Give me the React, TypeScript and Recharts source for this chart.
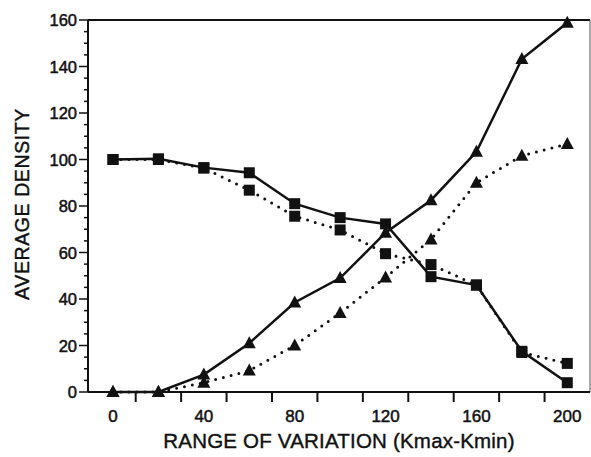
import { LineChart, Line, XAxis, YAxis, ReferenceLine } from "recharts";

const xValues = [0, 20, 40, 60, 80, 100, 120, 140, 160, 180, 200];
const solidSquares = [100, 100.3, 96.5, 94.3, 81, 75, 72.3, 49.6, 46, 17.5, 4];
const dottedSquares = [100, 100, 96.3, 86.8, 75.6, 69.7, 59.5, 54.8, 46, 17, 12.3];
const solidTriangles = [0, 0, 7.5, 21, 38.5, 49, 68.5, 82.5, 103.3, 143.2, 158.8];
const dottedTriangles = [0, 0, 4, 9.2, 20, 34, 49.3, 65.6, 90, 101.6, 106.7];

const xTicks = [0, 10, 20, 30, 40, 50, 60, 70, 80, 90, 100, 110, 120, 130, 140, 150, 160, 170, 180, 190, 200];
const yTicks = [
  0, 5, 10, 15, 20, 25, 30, 35, 40, 45, 50, 55, 60, 65, 70, 75, 80,
  85, 90, 95, 100, 105, 110, 115, 120, 125, 130, 135, 140, 145, 150, 155, 160,
];

const xTitle = "RANGE OF VARIATION (Kmax-Kmin)";
const yTitle = "AVERAGE DENSITY";

const data = xValues.map((x, i) => ({
  x,
  solidSquares: solidSquares[i],
  dottedSquares: dottedSquares[i],
  solidTriangles: solidTriangles[i],
  dottedTriangles: dottedTriangles[i],
}));

const font = "'Liberation Sans', Arial, sans-serif";
const ink = "#111";

const Square = (props: any) => {
  const { cx, cy, index } = props;
  if (cx == null || cy == null) return null;
  return <rect key={index} x={cx - 5.5} y={cy - 5.5} width={11} height={11} fill={ink} />;
};

const Triangle = (props: any) => {
  const { cx, cy, index } = props;
  if (cx == null || cy == null) return null;
  return (
    <polygon
      key={index}
      points={`${cx},${cy - 7} ${cx - 6.5},${cy + 5} ${cx + 6.5},${cy + 5}`}
      fill={ink}
    />
  );
};

const XTick = (props: any) => {
  const { x, y, payload } = props;
  const v = payload.value;
  return (
    <g>
      {v % 20 === 10 && <line x1={x} x2={x} y1={y} y2={y + 10} stroke={ink} strokeWidth={2} />}
      {v % 40 === 0 && (
        <text x={x} y={y + 30} textAnchor="middle" fontSize={17} fontFamily={font} fill={ink} stroke={ink} strokeWidth={0.5}>
          {v}
        </text>
      )}
    </g>
  );
};

const YTick = (props: any) => {
  const { x, y, payload } = props;
  const v = payload.value;
  const major = v % 20 === 0;
  return (
    <g>
      <line x1={x - (major ? 9 : 4)} x2={x} y1={y} y2={y} stroke={ink} strokeWidth={1.5} />
      {major && (
        <text x={x - 11} y={y + 6} textAnchor="end" fontSize={16.5} fontFamily={font} fill={ink} stroke={ink} strokeWidth={0.5}>
          {v}
        </text>
      )}
    </g>
  );
};

const XTitle = (props: any) => {
  const { viewBox } = props;
  return (
    <text
      x={viewBox.x + viewBox.width / 2}
      y={448}
      textAnchor="middle"
      fontSize={20.5}
      letterSpacing={0.2}
      fontFamily={font}
      fill={ink}
      stroke={ink}
      strokeWidth={0.4}
    >
      {xTitle}
    </text>
  );
};

const YTitle = (props: any) => {
  const { viewBox } = props;
  const cx = 22;
  const cy = viewBox.y + viewBox.height / 2 - 2;
  return (
    <text
      x={cx}
      y={cy}
      transform={`rotate(-90 ${cx} ${cy})`}
      textAnchor="middle"
      dominantBaseline="central"
      fontSize={19.5}
      letterSpacing={0.6}
      fontFamily={font}
      fill={ink}
      stroke={ink}
      strokeWidth={0.4}
    >
      {yTitle}
    </text>
  );
};

export default function App() {
  return (
    <div style={{ position: "absolute", left: 0, top: 0, width: 591, height: 457, background: "#fff" }}>
      <LineChart width={591} height={457} data={data} margin={{ top: 20, right: 1, bottom: 0, left: 0 }}>
        <XAxis
          type="number"
          dataKey="x"
          domain={[-11, 210]}
          ticks={xTicks}
          interval={0}
          tickSize={0}
          tickMargin={0}
          tick={XTick}
          height={65}
          axisLine={{ stroke: ink, strokeWidth: 2 }}
          label={XTitle}
        />
        <YAxis
          type="number"
          domain={[0, 160]}
          ticks={yTicks}
          interval={0}
          tickSize={0}
          tickMargin={0}
          tick={YTick}
          width={88}
          axisLine={{ stroke: ink, strokeWidth: 2 }}
          label={YTitle}
        />
        <ReferenceLine y={160} stroke={ink} strokeWidth={2} />
        <ReferenceLine x={210} stroke="#555" strokeWidth={1} />
        <Line
          type="linear"
          dataKey="dottedSquares"
          stroke={ink}
          strokeWidth={3}
          strokeDasharray="0 8"
          strokeLinecap="round"
          dot={Square}
          activeDot={false}
          isAnimationActive={false}
        />
        <Line
          type="linear"
          dataKey="dottedTriangles"
          stroke={ink}
          strokeWidth={3}
          strokeDasharray="0 8"
          strokeLinecap="round"
          dot={Triangle}
          activeDot={false}
          isAnimationActive={false}
        />
        <Line
          type="linear"
          dataKey="solidSquares"
          stroke={ink}
          strokeWidth={2.5}
          dot={Square}
          activeDot={false}
          isAnimationActive={false}
        />
        <Line
          type="linear"
          dataKey="solidTriangles"
          stroke={ink}
          strokeWidth={2.5}
          dot={Triangle}
          activeDot={false}
          isAnimationActive={false}
        />
      </LineChart>
    </div>
  );
}
